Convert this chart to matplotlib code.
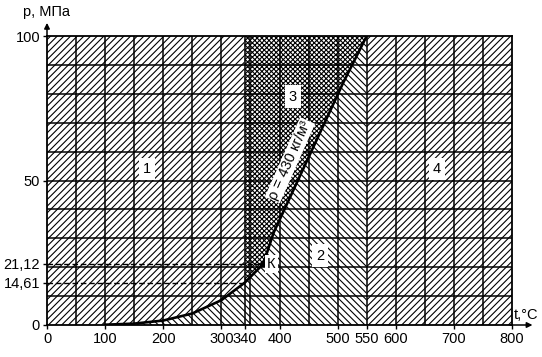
import numpy as np
import matplotlib.pyplot as plt
from matplotlib.patches import Polygon

plt.rcParams['font.family'] = ['Liberation Sans', 'DejaVu Sans']
plt.rcParams['hatch.linewidth'] = 0.8

# saturation curve (t, degC ; p, MPa) up to the critical point K
sat_t = [0, 100, 150, 200, 250, 300, 340, 360, 372]
sat_p = [0, 0.1, 0.48, 1.55, 3.98, 8.59, 14.61, 18.67, 21.12]

# rho = 430 kg/m3 line from K to the top of the chart
rho_t = [372, 390, 420, 450, 480, 510, 550]
rho_p = [21.12, 32, 45, 58, 71, 84, 100]

x_ticks = [0, 100, 200, 300, 340, 400, 500, 550, 600, 700, 800]
y_ticks = [0, 14.61, 21.12, 50, 100]
y_labels = ['0', '14,61', '21,12', '50', '100']

t_left = 340     # left border of zone 3
t_right = 550    # border between zones 2 and 4
t_max, p_max = 800, 100

fig = plt.figure(figsize=(5.42, 3.57), dpi=100)
ax = fig.add_axes([47 / 542, 32 / 357, 465 / 542, 289 / 357])
ax.set_xlim(0, t_max)
ax.set_ylim(0, p_max)

# zone 2: below saturation curve and right of rho line up to 550
i340 = sat_t.index(t_left)
z2 = list(zip(sat_t, sat_p)) + list(zip(rho_t[1:], rho_p[1:])) + [(t_right, 0)]
ax.add_patch(Polygon(z2, closed=True, facecolor='white', edgecolor='black',
                     hatch='\\' * 5, linewidth=0, zorder=1))

# zone 1: water, left of 340 above saturation curve
z1 = list(zip(sat_t[:i340 + 1], sat_p[:i340 + 1])) + [(t_left, p_max), (0, p_max)]
ax.add_patch(Polygon(z1, closed=True, facecolor='white', edgecolor='black',
                     hatch='/' * 5, linewidth=0, zorder=1))

# zone 3: between 340, saturation curve and rho line
z3 = list(zip(sat_t[i340:], sat_p[i340:])) + list(zip(rho_t[1:], rho_p[1:])) + [(t_left, p_max)]
ax.add_patch(Polygon(z3, closed=True, facecolor='white', edgecolor='black',
                     hatch='x' * 7, linewidth=0, zorder=1))

# zone 4: above 550
z4 = [(t_right, 0), (t_max, 0), (t_max, p_max), (t_right, p_max)]
ax.add_patch(Polygon(z4, closed=True, facecolor='white', edgecolor='black',
                     hatch='/' * 5, linewidth=0, zorder=1))

# grid
ax.vlines(np.arange(50, t_max, 50), 0, p_max, color='black', lw=1.1, zorder=2)
ax.hlines(np.arange(10, p_max, 10), 0, t_max, color='black', lw=1.1, zorder=2)
ax.vlines([t_left], 0, p_max, color='black', lw=1.1, zorder=2)

# dashed guides to K and to 340 C
ax.plot([0, sat_t[-1]], [sat_p[-1], sat_p[-1]], color='black', lw=1.0, ls=(0, (4, 2)), zorder=3)
ax.plot([0, t_left], [sat_p[i340], sat_p[i340]], color='black', lw=1.0, ls=(0, (4, 2)), zorder=3)

# curves
ax.plot(sat_t[1:], sat_p[1:], color='black', lw=1.9, zorder=4)
ax.plot(rho_t, rho_p, color='black', lw=1.9, zorder=4)
ax.plot([sat_t[-1]], [sat_p[-1]], 'o', color='black', ms=3, zorder=5)

box = dict(facecolor='white', edgecolor='none', pad=3)
ax.text(172, 54, '1', fontsize=10.5, ha='center', va='center', bbox=box, zorder=6)
ax.text(470, 24, '2', fontsize=10.5, ha='center', va='center', bbox=box, zorder=6)
ax.text(423, 79, '3', fontsize=10.5, ha='center', va='center', bbox=box, zorder=6)
ax.text(671, 54, '4', fontsize=10.5, ha='center', va='center', bbox=box, zorder=6)
ax.text(386, 21, 'К', fontsize=10.5, ha='center', va='center',
        bbox=dict(facecolor='white', edgecolor='none', pad=1.5), zorder=6)
ax.text(418, 57, 'ρ = 430 кг/м³', fontsize=10.5, ha='center', va='center',
        rotation=66, bbox=dict(facecolor='white', edgecolor='none', pad=0.8), zorder=3.5)

# axes and ticks
for s in ax.spines.values():
    s.set_linewidth(1.3)
    s.set_zorder(7)
ax.set_xticks(x_ticks)
ax.set_yticks(y_ticks)
ax.set_yticklabels(y_labels)
ax.tick_params(direction='out', length=3, width=1, labelsize=10.5, pad=2)

# axis arrows and names
ax.annotate('', xy=(1.05, 0), xytext=(0.99, 0), xycoords='axes fraction',
            arrowprops=dict(arrowstyle='-|>', color='black', lw=1.1, mutation_scale=8))
ax.annotate('', xy=(0, 1.055), xytext=(0, 0.99), xycoords='axes fraction',
            arrowprops=dict(arrowstyle='-|>', color='black', lw=1.1, mutation_scale=8))
ax.text(1.003, 0.012, 't,°C', transform=ax.transAxes, fontsize=10.5, ha='left', va='bottom')
ax.text(-0.052, 1.06, 'p, МПа', transform=ax.transAxes, fontsize=10.5, ha='left', va='bottom')

plt.savefig('out.png', dpi=100)
